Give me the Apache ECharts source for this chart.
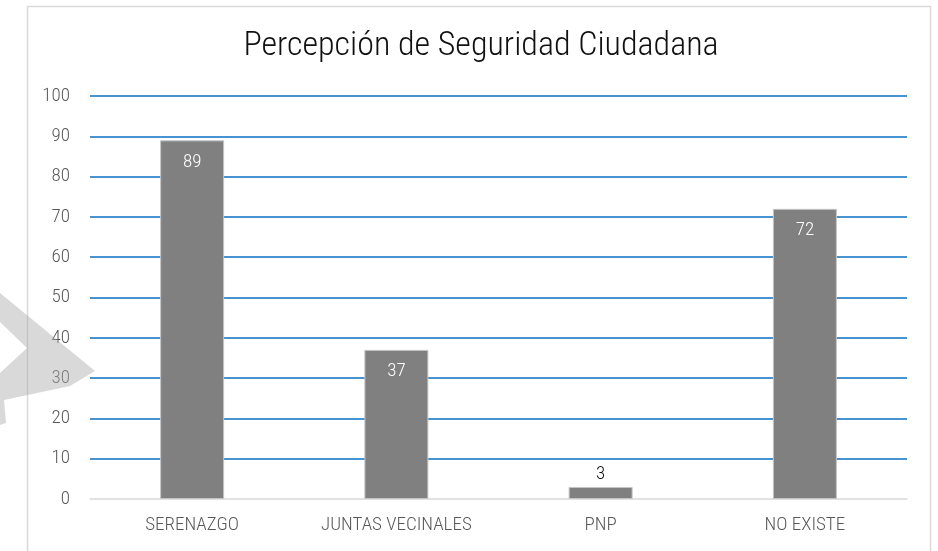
<!DOCTYPE html>
<html><head><meta charset="utf-8">
<script src="https://cdn.jsdelivr.net/npm/echarts@6/dist/echarts.min.js"></script>
<style>html,body{margin:0;padding:0;background:#fff}#c{width:938px;height:551px}</style>
</head><body><div id="c"></div>
<script>
const title = "Percepción de Seguridad Ciudadana";
const categories = ["SERENAZGO", "JUNTAS VECINALES", "PNP", "NO EXISTE"];
const values = [89, 37, 3, 72];
const yTicks = [0, 100, 10];
const FONT = "'Roboto Condensed','Liberation Sans Narrow','Arial Narrow','DejaVu Sans Condensed',sans-serif";

const chart = echarts.init(document.getElementById('c'), null, {renderer: 'canvas'});
chart.setOption({
  backgroundColor: '#fff',
  animation: false,
  grid: {left: 90, right: 31, top: 96, bottom: 52},
  xAxis: {type: 'category', data: categories,
    axisLine: {lineStyle: {color: '#d9d9d9', width: 1.5}},
    axisTick: {show: false},
    axisLabel: {fontFamily: FONT, fontSize: 19, fontWeight: 300, color: '#595959', margin: 17}},
  yAxis: {type: 'value', min: yTicks[0], max: yTicks[1], interval: yTicks[2],
    axisLine: {show: false}, axisTick: {show: false},
    axisLabel: {fontFamily: FONT, fontSize: 19, fontWeight: 300, color: '#595959', margin: 20},
    splitLine: {showMinLine: false, lineStyle: {color: '#0a6fc2', width: 1.5}}},
  series: [{type: 'bar', data: values.map(v => ({value: v,
      label: v < 10 ? {position: 'top', distance: 3, color: '#111'} : {}})),
    barWidth: 64,
    itemStyle: {color: '#808080', borderColor: '#c4c4c4', borderWidth: 1},
    label: {show: true, position: 'insideTop', distance: 12,
      fontFamily: FONT, fontSize: 19, fontWeight: 300, color: '#fff'}}],
  graphic: [
    {type: 'rect', shape: {x: 27.5, y: 6.5, width: 903, height: 560},
      style: {fill: 'none', stroke: '#d9d9d9', lineWidth: 1.5}, z: 0},
    {type: 'text', x: 481, y: 46, z: 10,
      style: {text: title, align: 'center', verticalAlign: 'middle',
        font: "300 34px " + FONT, fill: '#111'}},
    {type: 'polygon', shape: {points: [[0,293],[95,371],[70,386],[4,400],[6,423],[0,425],[0,373],[27,348],[0,322]]},
      style: {fill: 'rgba(170,170,170,0.45)'}, z: 100}
  ]
});
</script></body></html>
